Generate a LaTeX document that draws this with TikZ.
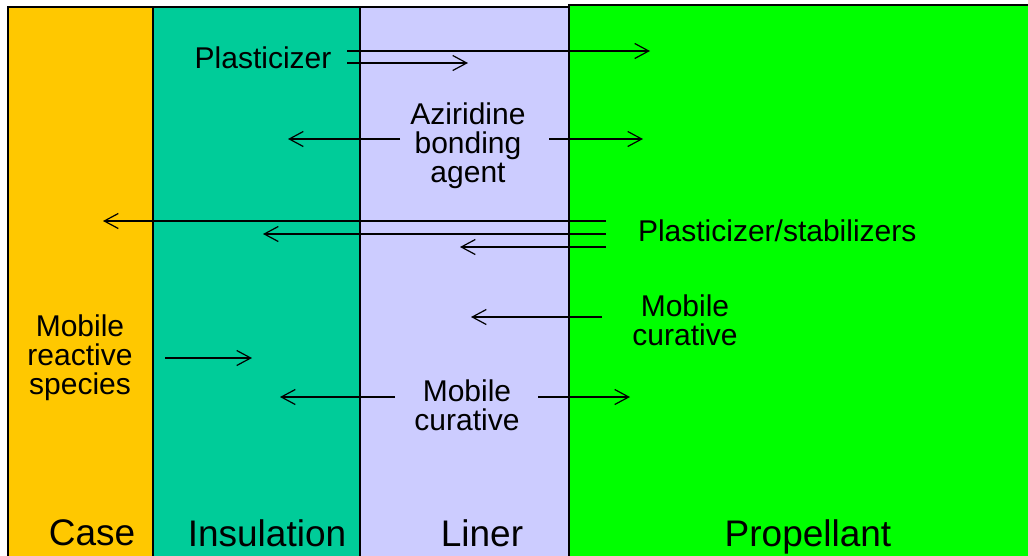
\documentclass[tikz,border=0pt]{standalone}
\usepackage{fontspec}
\setmainfont{Liberation Sans}
\usetikzlibrary{arrows.meta}
\definecolor{casec}{RGB}{255,200,0}
\definecolor{insc}{RGB}{0,204,153}
\definecolor{linc}{RGB}{204,204,255}
\definecolor{propc}{RGB}{0,255,0}
\begin{document}
\begin{tikzpicture}[x=1pt,y=-1pt,
  layer/.style={draw=black,line width=1.5pt},
  lbl/.style={inner sep=0pt,outer sep=0pt,anchor=north,align=center,font=\fontsize{30}{29}\selectfont},
  big/.style={inner sep=0pt,outer sep=0pt,anchor=north,font=\fontsize{37}{40}\selectfont},
  arr/.style={line width=1.2pt,-{Straight Barb[length=14pt,width=15pt,line width=1.2pt]}}]
\useasboundingbox (0,0) rectangle (1028,555);
\fill[white] (0,0) rectangle (1028,555);
% layers
\path[layer,fill=propc] (569,5) rectangle (1034,560);
\path[layer,fill=linc] (360,7) rectangle (569,560);
\path[layer,fill=insc] (153,7) rectangle (360,560);
\path[layer,fill=casec] (8,7) rectangle (153,560);
% labels
\node[lbl] (plast) at (263,47) {Plasticizer};
\node[lbl] (azir) at (468,103) {Aziridine\\bonding\\agent};
\node[lbl,anchor=north west,align=left] (plstab) at (638,220) {Plasticizer/stabilizers};
\node[lbl] (mcprop) at (685,295) {Mobile\\curative};
\node[lbl] (mrs) at (80,315) {Mobile\\reactive\\species};
\node[lbl] (mcliner) at (467,380) {Mobile\\curative};
\node[big] (case) at (92,520) {Case};
\node[big] (ins) at (267,520) {Insulation};
\node[big] (liner) at (482,520) {Liner};
\node[big] (prop) at (808,520) {Propellant};
% connector ends
\coordinate (s1) at (347,51);  \coordinate (e1) at (650,51);
\coordinate (s2) at (347,63);  \coordinate (e2) at (468,63);
\coordinate (s3) at (400,139); \coordinate (e3) at (288,139);
\coordinate (s4) at (549,139); \coordinate (e4) at (643,139);
\coordinate (s5) at (606,221); \coordinate (e5) at (103,221);
\coordinate (s6) at (606,234); \coordinate (e6) at (263,234);
\coordinate (s7) at (606,247); \coordinate (e7) at (460,247);
\coordinate (s8) at (602,317); \coordinate (e8) at (471,317);
\coordinate (s9) at (165,358); \coordinate (e9) at (252,358);
\coordinate (s10) at (395,397); \coordinate (e10) at (280,397);
\coordinate (s11) at (538,397); \coordinate (e11) at (630,397);
\foreach \i in {1,...,11} {\draw[arr] (s\i) -- (e\i);}
\end{tikzpicture}
\end{document}
